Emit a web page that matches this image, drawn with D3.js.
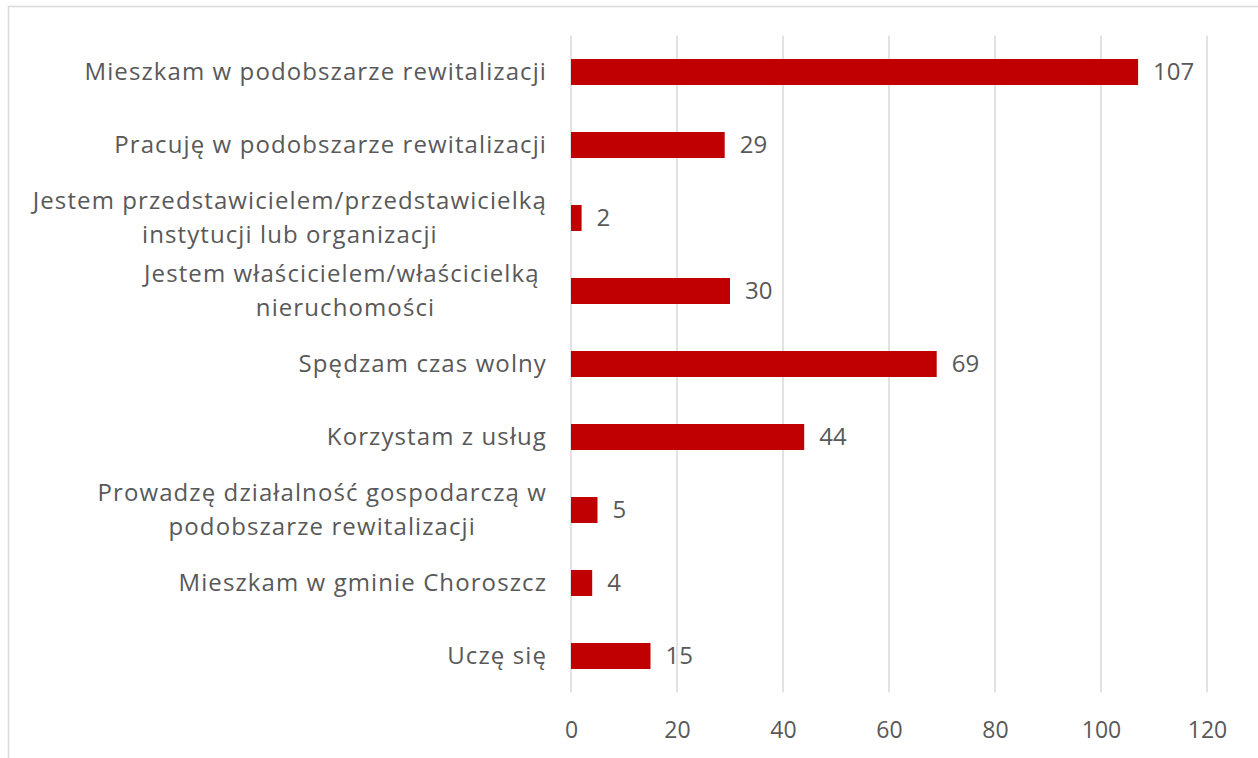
<!DOCTYPE html>
<html><head><meta charset="utf-8">
<script src="https://cdn.jsdelivr.net/npm/d3@7"></script>
<style>html,body{margin:0;padding:0;background:#fff;}svg{display:block;}</style>
</head><body>
<svg id="chart" width="1258" height="758"></svg>
<script>
const categories = [
  ["Mieszkam w podobszarze rewitalizacji"],
  ["Pracuję w podobszarze rewitalizacji"],
  ["Jestem przedstawicielem/przedstawicielką", "instytucji lub organizacji"],
  ["Jestem właścicielem/właścicielką ", "nieruchomości"],
  ["Spędzam czas wolny"],
  ["Korzystam z usług"],
  ["Prowadzę działalność gospodarczą w", "podobszarze rewitalizacji"],
  ["Mieszkam w gminie Choroszcz"],
  ["Uczę się"]
];
const values = [107, 29, 2, 30, 69, 44, 5, 4, 15];
const xTicks = [0, 20, 40, 60, 80, 100, 120];

const svg = d3.select("#chart");
const plotLeft = 571, plotRight = 1207, plotTop = 35.5, plotBottom = 692.5;
const labelFont = "'Open Sans', sans-serif";
const textColor = "#595959";

// chart border
svg.append("path").attr("d", "M8.5,758 L8.5,6.5 L1258,6.5")
  .attr("fill", "none").attr("stroke", "#d9d9d9").attr("stroke-width", 1.5);

const x = d3.scaleLinear().domain([0, 120]).range([plotLeft, plotRight]);
const idx = d3.range(categories.length);
const y = d3.scaleBand().domain(idx).range([plotTop, plotBottom]).paddingInner(0.644).paddingOuter(0.322);

// gridlines
svg.append("g").selectAll("line").data(xTicks).join("line")
  .attr("x1", d => x(d)).attr("x2", d => x(d))
  .attr("y1", plotTop).attr("y2", plotBottom)
  .attr("stroke", "#d9d9d9").attr("stroke-width", 1.5);

// x axis labels
const xAxis = d3.axisBottom(x).tickValues(xTicks).tickSize(0).tickPadding(0);
const gx = svg.append("g").attr("transform", `translate(0,${plotBottom})`).call(xAxis);
gx.select(".domain").remove();
gx.selectAll(".tick text")
  .attr("y", 37).attr("dy", "0.35em")
  .attr("fill", textColor)
  .style("font-family", labelFont)
  .style("font-size", "23px");

// bars
svg.append("g").selectAll("rect").data(values).join("rect")
  .attr("x", x(0))
  .attr("y", (d, i) => y(i))
  .attr("width", d => x(d) - x(0))
  .attr("height", y.bandwidth())
  .attr("fill", "#c00000");

// value labels
svg.append("g").selectAll("text").data(values).join("text")
  .attr("x", d => x(d) + 15)
  .attr("y", (d, i) => y(i) + y.bandwidth() / 2)
  .attr("dy", "0.35em")
  .attr("fill", textColor)
  .style("font-family", labelFont)
  .style("font-size", "24px")
  .text(d => d);

// category labels
const labelRight = 547;
const lineGap = 34;
const cg = svg.append("g");
categories.forEach((lines, i) => {
  const cy = y(i) + y.bandwidth() / 2;
  const g = cg.append("g");
  const texts = lines.map((ln, j) => g.append("text")
    .attr("y", cy + (j - (lines.length - 1) / 2) * lineGap)
    .attr("dy", "0.35em")
    .attr("fill", textColor)
    .style("font-family", labelFont)
    .style("font-size", "24px")
    .style("letter-spacing", "1.1px")
    .style("white-space", "pre")
    .attr("text-anchor", "middle")
    .text(ln));
  const maxW = d3.max(texts, t => t.node().getComputedTextLength());
  texts.forEach(t => t.attr("x", labelRight - maxW / 2));
});
</script>
</body></html>
